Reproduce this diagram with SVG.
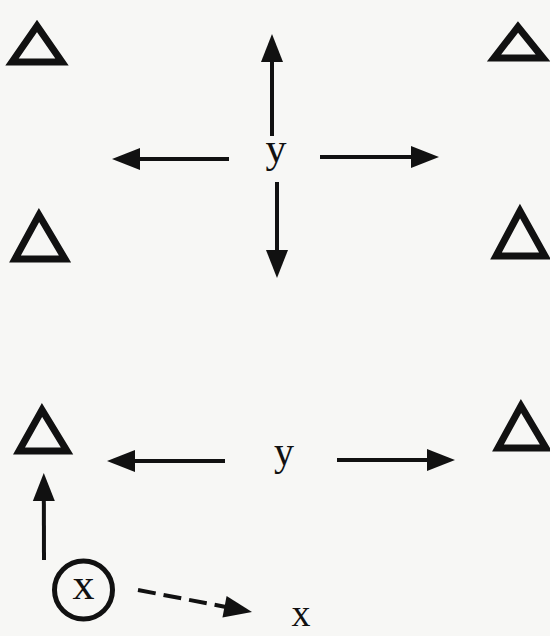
<svg xmlns="http://www.w3.org/2000/svg" width="550" height="636" viewBox="0 0 550 636">
<style>
.tri{fill:none;stroke:#111;stroke-width:7;stroke-linejoin:miter}
.ar{fill:none;stroke:#111;stroke-width:4;marker-end:url(#head)}
.dash{stroke-dasharray:18 8}
.lbl{font-family:"Liberation Serif","Times New Roman",serif;fill:#111;text-anchor:middle}
</style>
<defs>
<marker id="head" markerUnits="userSpaceOnUse" markerWidth="30" markerHeight="24" refX="18" refY="11" orient="auto" overflow="visible">
<path d="M0,0 L28,11 L0,22 Z" fill="#111"/>
</marker>
</defs>
<rect width="550" height="636" fill="#f7f7f5"/>
<g id="tri-top-left"><polygon class="tri" points="37,26 12,62 62,62"/></g>
<g id="tri-top-right"><polygon class="tri" points="518,27 494,58 543,58"/></g>
<g id="tri-mid-left"><polygon class="tri" points="39,215 15,259 65,259"/></g>
<g id="tri-mid-right"><polygon class="tri" points="520,211 496,256 545,256"/></g>
<g id="tri-bot-left"><polygon class="tri" points="42,410 19,451 67,451"/></g>
<g id="tri-bot-right"><polygon class="tri" points="521,406 498,448 546,448"/></g>
<g id="label-y-top"><text class="lbl" x="276" y="162" font-size="42">y</text></g>
<g id="label-y-bottom"><text class="lbl" x="284" y="465" font-size="40">y</text></g>
<g id="node-x-circle">
<circle cx="83.5" cy="590" r="29" fill="none" stroke="#111" stroke-width="5"/>
<text class="lbl" x="83.5" y="599" font-size="44">x</text>
</g>
<g id="label-x-bottom"><text class="lbl" x="301" y="626" font-size="38">x</text></g>
<g id="connectors">
<line class="ar" x1="272" y1="136" x2="272" y2="44"/>
<line class="ar" x1="229" y1="159" x2="122" y2="159"/>
<line class="ar" x1="320" y1="157" x2="429" y2="157"/>
<line class="ar" x1="277" y1="182" x2="277" y2="268"/>
<line class="ar" x1="225" y1="461" x2="117" y2="461"/>
<line class="ar" x1="337" y1="460" x2="445" y2="460"/>
<line class="ar" x1="44" y1="560" x2="43.8" y2="483"/>
<line class="ar dash" x1="138" y1="590" x2="242.2" y2="610.1"/>
</g>
</svg>
